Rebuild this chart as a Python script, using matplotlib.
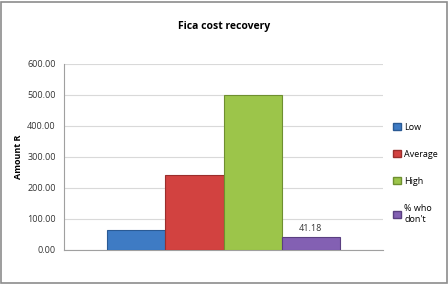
import matplotlib.pyplot as plt
from matplotlib.patches import Rectangle, Patch

# data
labels = ['Low', 'Average', 'High', "% who\ndon't"]
values = [65, 241, 500, 41.18]
colors = ['#3E7BC4', '#D24240', '#9CC54A', '#8360B3']
edges = ['#2A5A94', '#9A2E2C', '#6E8F30', '#5A3F80']
yticks = [0, 100, 200, 300, 400, 500, 600]

plt.rcParams['font.family'] = ['Open Sans', 'DejaVu Sans']

fig = plt.figure(figsize=(4.48, 2.84), dpi=100)
ax = fig.add_axes([0.143, 0.12, 0.712, 0.655])

x = list(range(len(values)))
ax.bar(x, values, width=1.0, color=colors, edgecolor=edges, linewidth=0.8, zorder=3)
ax.text(3, values[3] + 12, f'{values[3]:.2f}', ha='center', va='bottom', fontsize=6.5, color='#333333')

ax.set_xlim(-1.24, 4.24)
ax.set_ylim(0, 600)
ax.set_yticks(yticks)
ax.set_yticklabels([f'{v:.2f}' for v in yticks], fontsize=6.5, color='#333333')
ax.set_xticks([])
ax.tick_params(axis='y', length=0, pad=6)
ax.yaxis.grid(True, color='#D9D9D9', linewidth=0.8, zorder=0)
for s in ['top', 'right']:
    ax.spines[s].set_visible(False)
ax.spines['left'].set_color('#A0A0A0')
ax.spines['bottom'].set_color('#A0A0A0')
ax.set_ylabel('Amount R', fontsize=6.5, fontweight='bold', labelpad=3)

fig.text(0.5, 0.905, 'Fica cost recovery', ha='center', va='center', fontsize=7.5, fontweight='bold')

handles = [Patch(facecolor=c, edgecolor=e) for c, e in zip(colors, edges)]
fig.legend(handles, labels, loc='center left', bbox_to_anchor=(0.86, 0.39), frameon=False,
           fontsize=6.5, handlelength=0.8, handleheight=0.8, labelspacing=2.0, handletextpad=0.4)

fig.patches.append(Rectangle((0.002, 0.004), 0.995, 0.99, transform=fig.transFigure,
                             fill=False, edgecolor='#8C8C8C', linewidth=1.2))

fig.savefig('out.png', dpi=100)
